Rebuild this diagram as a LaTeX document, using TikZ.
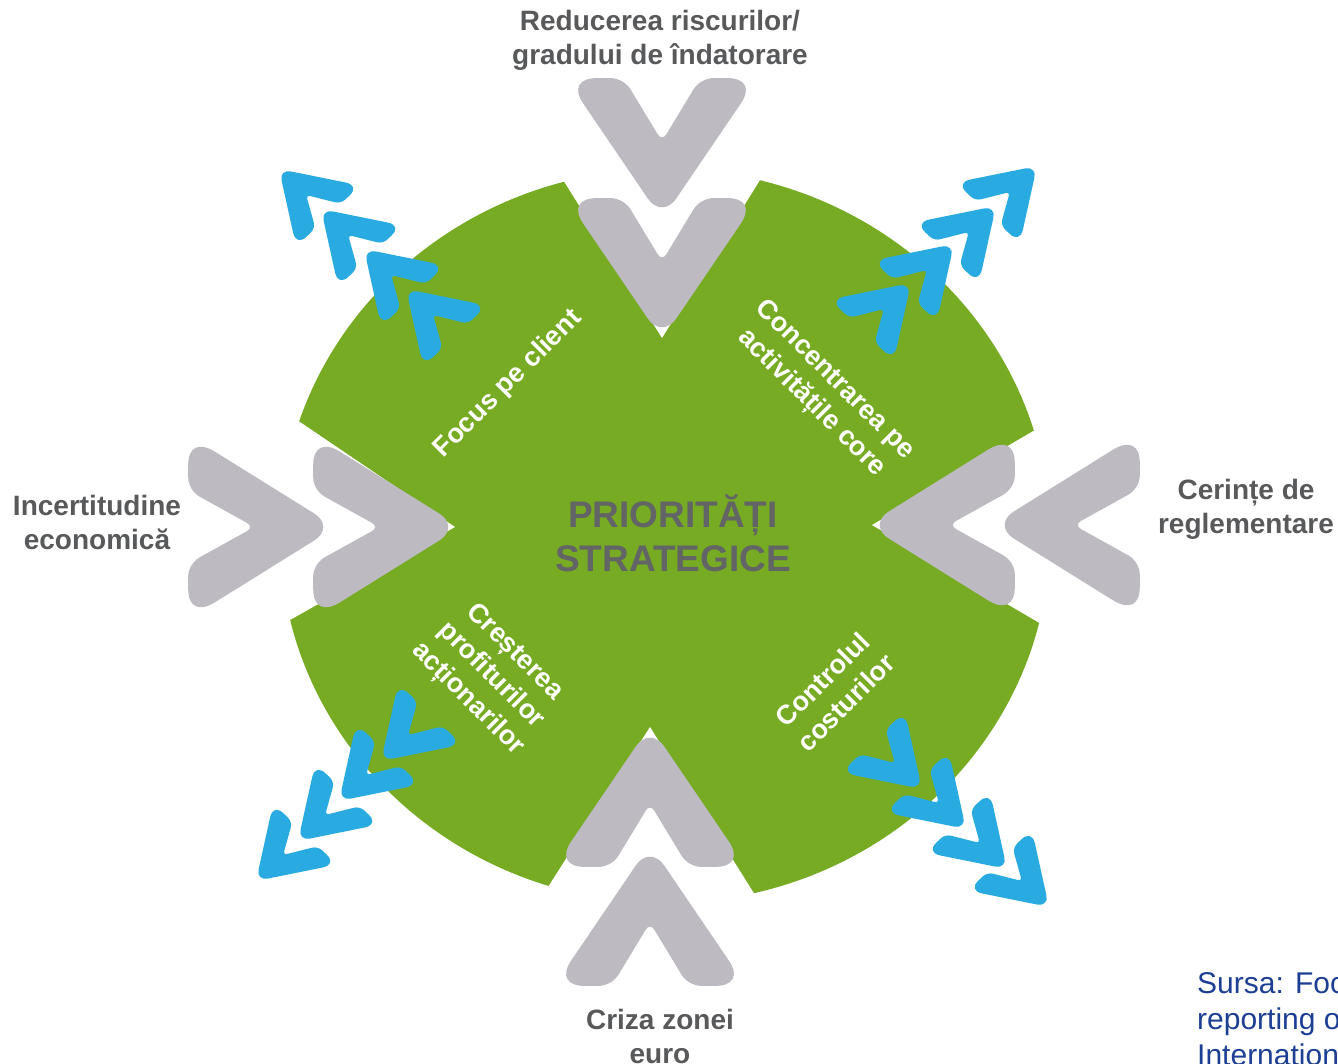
\documentclass[tikz,border=0pt]{standalone}
\usepackage{fontspec}
\setmainfont{Liberation Sans}
\definecolor{grn}{HTML}{76AB23}
\definecolor{chgray}{HTML}{BDBBC1}
\definecolor{blu}{HTML}{29ABE2}
\definecolor{lblgray}{HTML}{58595B}
\definecolor{ctrgray}{HTML}{636466}
\definecolor{srcblue}{HTML}{1C3F94}
\tikzset{
  lbltext/.style={font=\bfseries\fontsize{28}{34}\selectfont, text=lblgray, align=center, inner sep=0pt},
  ctrtext/.style={font=\bfseries\fontsize{37}{44}\selectfont, text=ctrgray, align=center, inner sep=0pt},
  wtext/.style={font=\bfseries\fontsize{27}{33}\selectfont, text=white, align=center, inner sep=0pt},
  srctext/.style={font=\fontsize{30}{36}\selectfont, text=srcblue, inner sep=0pt, anchor=base west},
}
% chevron: sharp tip x, y, direction angle, scale, colour
\newcommand{\chev}[5]{%
  \begin{scope}[shift={(#1,#2)}, xscale=1.045, rotate=#3, scale=#4, xscale=1.04]
    \fill[#5] (-19.9,-13.4) .. controls (-9,-6) and (-9,6) .. (-19.9,13.4)
      -- (-111.2,75.2) .. controls (-126.1,85.3) and (-136,80) .. (-136,62)
      -- (-136,49.7) .. controls (-136,41.9) and (-131.6,34) .. (-124.9,30)
      -- (-81.9,4.1) .. controls (-78.1,1.85) and (-78.1,-1.85) .. (-81.9,-4.1)
      -- (-124.9,-30) .. controls (-131.6,-34) and (-136,-41.9) .. (-136,-49.7)
      -- (-136,-62) .. controls (-136,-80) and (-126.1,-85.3) .. (-111.2,-75.2)
      -- cycle;
  \end{scope}}
\begin{document}
\begin{tikzpicture}[x=1pt,y=-1pt]
\useasboundingbox (0,0) rectangle (1338,1064);
\fill[white] (0,0) rectangle (1338,1064);
\clip (0,0) rectangle (1338,1064);
% green disc
\fill[grn] (665,536) ellipse [x radius=385pt, y radius=367pt];
% notches cut out of the disc
\fill[white] (662,338) -- (448.6,-3) -- (877.6,-9.6) -- cycle;
\fill[white] (650,727) -- (425.6,1079) -- (881,1096.6) -- cycle;
\fill[white] (455,527) -- (107.4,291.6) -- (92,731.6) -- cycle;
\fill[white] (872,525) -- (1230.6,316) -- (1248,745) -- cycle;
% grey chevrons
\chev{662}{219.5}{-90}{1}{chgray}
\chev{662}{339.5}{-90}{1}{chgray}
\chev{650}{725.5}{90}{1}{chgray}
\chev{650}{844.5}{90}{1}{chgray}
\chev{336}{527}{0}{1}{chgray}
\chev{461}{527}{0}{1}{chgray}
\chev{867}{525}{180}{1}{chgray}
\chev{992}{525}{180}{1}{chgray}
% blue chevrons, top-left
\chev{279}{169}{135}{0.47}{blu}
\chev{321}{209}{135}{0.47}{blu}
\chev{364}{249}{135}{0.47}{blu}
\chev{406}{289}{135}{0.47}{blu}
% top-right
\chev{1037}{166}{45}{0.47}{blu}
\chev{996}{206}{45}{0.47}{blu}
\chev{954}{244}{45}{0.47}{blu}
\chev{911}{283}{45}{0.47}{blu}
% bottom-left
\chev{256}{881}{-135}{0.47}{blu}
\chev{298}{841}{-135}{0.47}{blu}
\chev{339}{801}{-135}{0.47}{blu}
\chev{381}{761}{-135}{0.47}{blu}
% bottom-right
\chev{922}{789}{-45}{0.47}{blu}
\chev{966}{829}{-45}{0.47}{blu}
\chev{1007}{869}{-45}{0.47}{blu}
\chev{1049}{907}{-45}{0.47}{blu}
% labels
\node[lbltext] (topl) at (660,40) {Reducerea riscurilor/\\gradului de îndatorare};
\node[lbltext] (leftl) at (97,522) {Incertitudine\\economică};
\node[lbltext] (rightl) at (1246,509) {Cerințe de\\reglementare};
\node[lbltext] (botl) at (660,1036) {Criza zonei\\euro};
\node[ctrtext] (ctr) at (673,533) {PRIORITĂȚI\\STRATEGICE};
\node[wtext, rotate=45] (focus) at (508,384) {Focus pe client};
\node[wtext, rotate=-45] (conc) at (823,392) {Concentrarea pe\\activitățile core};
\node[wtext, rotate=-45] (cres) at (491,676) {Creșterea\\profiturilor\\acționarilor};
\node[wtext, rotate=45] (ctrl) at (834,691) {Controlul\\costurilor};
\node[srctext] (src1) at (1197,993) {Sursa: Focus};
\node[srctext] (src2) at (1197,1029) {reporting of};
\node[srctext] (src3) at (1197,1065) {International};
\end{tikzpicture}
\end{document}
